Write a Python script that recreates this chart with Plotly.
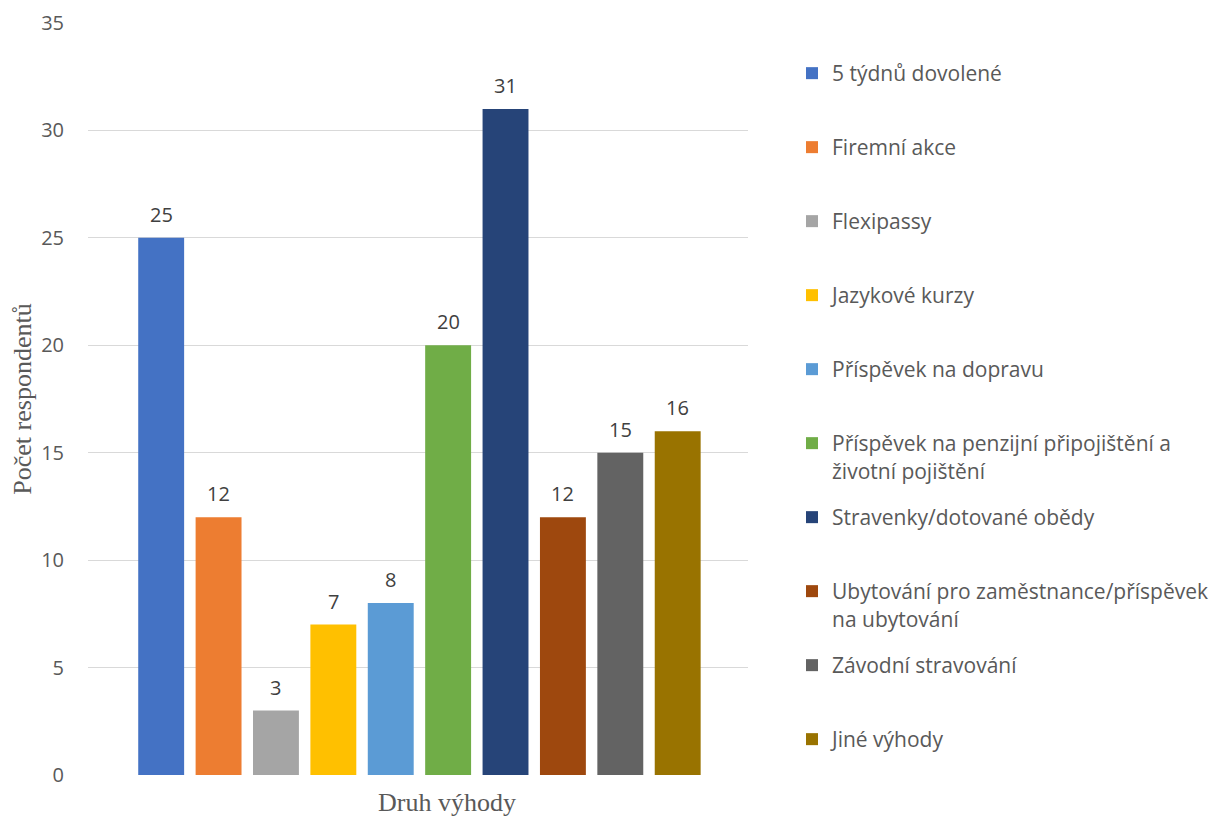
import plotly.graph_objects as go

categories = [
    "5 týdnů dovolené",
    "Firemní akce",
    "Flexipassy",
    "Jazykové kurzy",
    "Příspěvek na dopravu",
    "Příspěvek na penzijní připojištění a<br>životní pojištění",
    "Stravenky/dotované obědy",
    "Ubytování pro zaměstnance/příspěvek<br>na ubytování",
    "Závodní stravování",
    "Jiné výhody",
]
values = [25, 12, 3, 7, 8, 20, 31, 12, 15, 16]
colors = ["#4472C4", "#ED7D31", "#A5A5A5", "#FFC000", "#5B9BD5",
          "#70AD47", "#264478", "#9E480E", "#636363", "#997300"]
y_ticks = [0, 5, 10, 15, 20, 25, 30, 35]
x_title = "Druh výhody"
y_title = "Počet respondentů"

# full window size; the page's body margin is removed in post_script
W, H = 1210, 817
L, R, T, B = 88, 462, 23, 42
plot_h = H - T - B
plot_w = W - L - R

fig = go.Figure()
annotations = []
layout_legends = {}
for i, (name, v, c) in enumerate(zip(categories, values, colors)):
    lname = "legend" if i == 0 else f"legend{i+1}"
    fig.add_trace(go.Bar(
        x=[i], y=[v], name=name, marker=dict(color=c, line=dict(width=0)),
        width=0.8, legend=lname, showlegend=True,
    ))
    annotations.append(dict(
        x=i, y=v, xref="x", yref="y", text=str(v), showarrow=False,
        yanchor="bottom", yshift=8,
        font=dict(family="Open Sans", size=20, color="#404040"),
    ))
    center_px = 73 + 74 * i
    top_px = center_px - 20
    layout_legends[lname] = dict(
        x=(792 - L) / plot_w, xanchor="left",
        y=(H - B - top_px) / plot_h, yanchor="top",
        bgcolor="rgba(0,0,0,0)", borderwidth=0,
        font=dict(family="Open Sans", size=21, color="#595959"),
        valign="top",
    )

# x-axis title (offset to the right of the plot centre, as in the source)
annotations.append(dict(
    x=(447 - L) / plot_w, y=(H - B - 803) / plot_h, xref="paper", yref="paper",
    text=x_title, showarrow=False, xanchor="center", yanchor="middle",
    font=dict(family="Liberation Serif", size=26, color="#595959"),
))

fig.update_layout(
    width=W, height=H,
    margin=dict(l=L, r=R, t=T, b=B, autoexpand=False),
    paper_bgcolor="white", plot_bgcolor="white",
    barmode="overlay",
    annotations=annotations,
    **layout_legends,
)
fig.update_xaxes(
    range=[-1.275, 10.225], showticklabels=False, showgrid=False, zeroline=False,
    showline=False, ticks="",
)
fig.update_yaxes(
    range=[0, 35], tickvals=y_ticks, showgrid=True, gridcolor="#D9D9D9",
    gridwidth=1, zeroline=False, showline=False, ticks="",
    ticklabelstandoff=23,
    tickfont=dict(family="Open Sans", size=20, color="#595959"),
    title=dict(text=y_title, standoff=2,
               font=dict(family="Liberation Serif", size=26, color="#595959")),
)

fig.write_html(
    "out.html",
    config={"displayModeBar": False},
    post_script="document.body.style.margin='0px';document.body.style.overflow='hidden';",
)
